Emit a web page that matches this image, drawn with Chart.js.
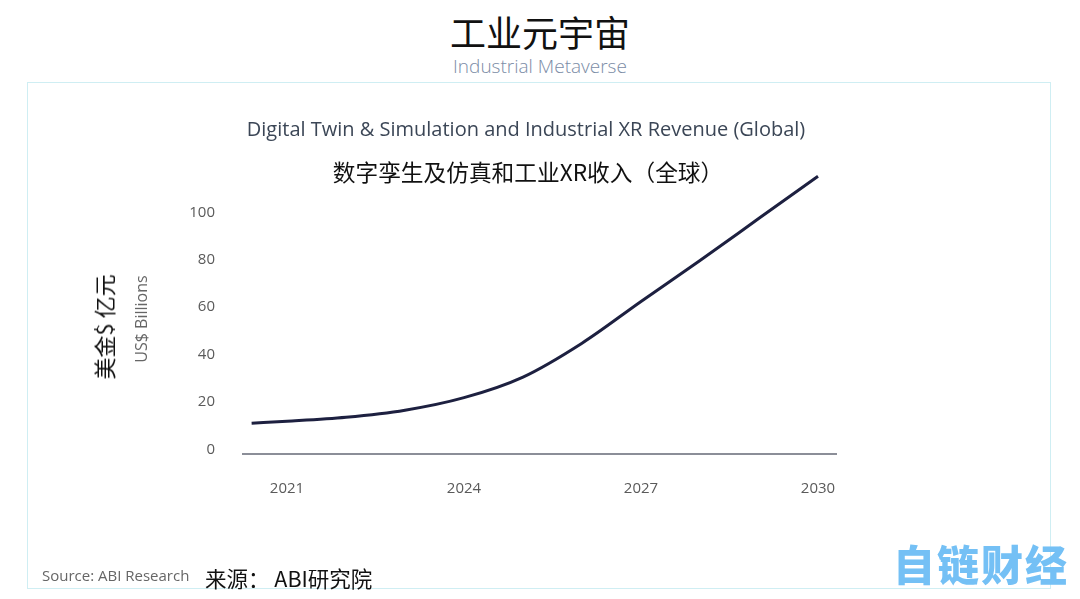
<!DOCTYPE html>
<html>
<head>
<meta charset="utf-8">
<script src="https://cdn.jsdelivr.net/npm/chart.js@4"></script>
<style>
  body { margin: 0; background: #fff; width: 1080px; height: 599px; position: relative; overflow: hidden;
         font-family: "Noto Sans CJK SC", "Noto Sans", sans-serif; }
  .abs { position: absolute; white-space: nowrap; }
  #pageTitle { left: 0; width: 1080px; top: 8px; text-align: center; font-size: 36px; color: #111; line-height: 46px; }
  #pageSub { left: 0; width: 1080px; top: 53px; text-align: center; font-size: 19px; color: #7b8ca6;
             font-family: "Open Sans", "Noto Sans", sans-serif; font-weight: 300; line-height: 26px; }
  #panel { left: 27px; top: 82px; width: 1024px; height: 507px; border: 1px solid #cfeef3; box-sizing: border-box; }
  #chartBox { left: 28px; top: 83px; width: 1023px; height: 506px; }
  #enTitle { left: 0; width: 1052px; top: 115px; text-align: center; font-size: 20px; color: #3b4656;
             font-family: "Open Sans", "Noto Sans", sans-serif; line-height: 28px; }
  #cnTitle { left: 0; width: 1056px; top: 156px; text-align: center; font-size: 22.7px; color: #111; line-height: 32px; }
  #cnUnit { left: 103px; top: 327px; transform: translate(-50%, -50%) rotate(-90deg); font-size: 22px; color: #111; }
  #srcEn { left: 42px; top: 565px; font-size: 15px; color: #666; font-family: "Open Sans", "Noto Sans", sans-serif; }
  #srcCn { left: 205px; top: 562px; font-size: 21.5px; color: #111; }
  #mark { left: 893px; top: 532px; font-size: 42px; font-weight: 900; color: #74c0f5; letter-spacing: 2px; }
</style>
</head>
<body>
<div id="pageTitle" class="abs">工业元宇宙</div>
<div id="pageSub" class="abs">Industrial Metaverse</div>
<div id="panel" class="abs"></div>
<div id="chartBox" class="abs"><canvas id="revChart" width="1023" height="506"></canvas></div>
<div id="enTitle" class="abs">Digital Twin &amp; Simulation and Industrial XR Revenue (Global)</div>
<div id="cnTitle" class="abs">数字孪生及仿真和工业XR收入（全球）</div>
<div id="cnUnit" class="abs">美金$ 亿元</div>
<div id="srcEn" class="abs">Source: ABI Research</div>
<div id="srcCn" class="abs">来源： ABI研究院</div>
<div id="mark" class="abs">自链财经</div>

<script>
  // curve (US$ billions), first point is where the line starts
  const years = [2020.4, 2021, 2022, 2023, 2024, 2025, 2026, 2027, 2028, 2029, 2030];
  const revenue = [11.0, 11.8, 13.5, 16.5, 21.8, 30.5, 44.8, 62.4, 79.7, 97.5, 115.3];
  const xTicks = [2021, 2024, 2027, 2030];
  const yTicks = [0, 20, 40, 60, 80, 100];

  const tickFont = { family: '"Open Sans", "Noto Sans", sans-serif', size: 15 };

  const ctx = document.getElementById('revChart').getContext('2d');

  const data = {
    datasets: [{
      label: 'Revenue',
      data: years.map((y, i) => ({ x: y, y: revenue[i] })),
      borderColor: '#1d2040',
      borderWidth: 3,
      pointRadius: 0,
      cubicInterpolationMode: 'monotone',
      clip: false
    }]
  };

  const config = {
    type: 'line',
    data: data,
    options: {
      responsive: false,
      animation: false,
      layout: { padding: { left: 105, right: 215, top: 101, bottom: 90 } },
      plugins: {
        legend: { display: false },
        tooltip: { enabled: false }
      },
      scales: {
        x: {
          type: 'linear',
          min: 2020.254,
          max: 2030.305,
          afterBuildTicks: (axis) => { axis.ticks = xTicks.map(v => ({ value: v })); },
          afterFit: (axis) => { axis.height = 45; },
          grid: { display: false, drawTicks: false },
          border: { display: true, color: '#8b8e98', width: 2 },
          ticks: {
            color: '#5a5a5a',
            font: tickFont,
            padding: 26,
            maxRotation: 0,
            callback: (v) => String(v)
          }
        },
        y: {
          min: -2,
          max: 112,
          afterBuildTicks: (axis) => { axis.ticks = yTicks.map(v => ({ value: v })); },
          afterFit: (axis) => { axis.width = 110; },
          grid: { display: false, drawTicks: false },
          border: { display: false },
          ticks: { color: '#5a5a5a', font: tickFont, padding: 28 },
          title: {
            display: true,
            text: 'US$ Billions',
            color: '#666',
            font: { family: '"Open Sans", "Noto Sans", sans-serif', size: 16, lineHeight: 1.2 },
            padding: { top: 0, bottom: 0 }
          }
        }
      }
    }
  };

  const revChart = new Chart(ctx, config);
</script>
</body>
</html>
